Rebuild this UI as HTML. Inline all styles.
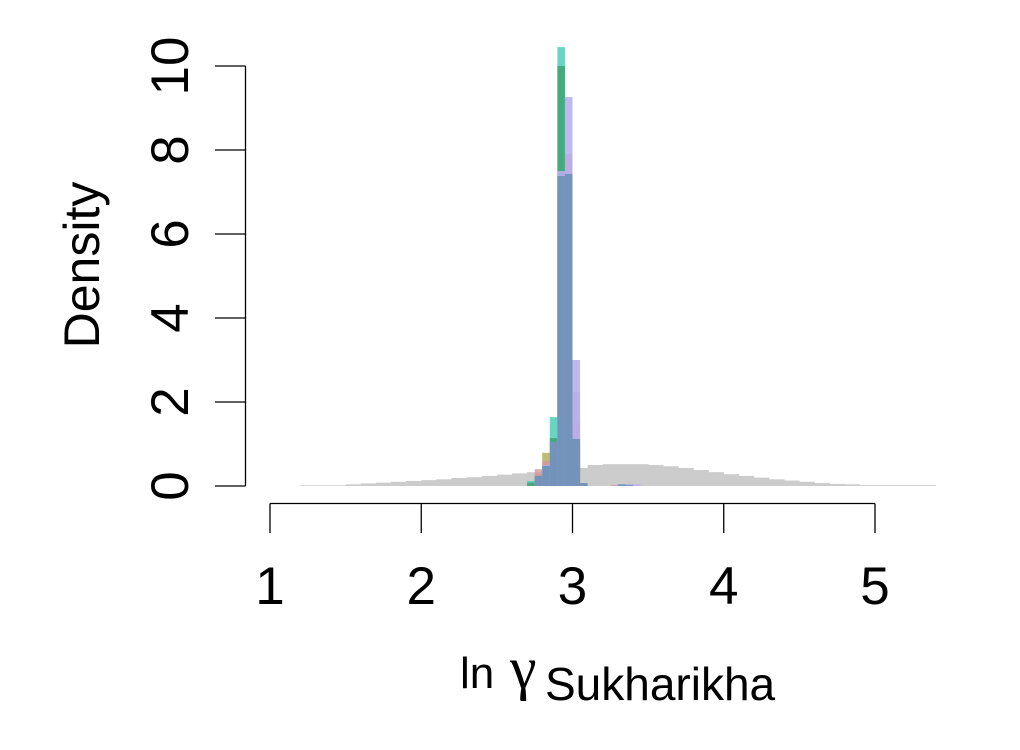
<!DOCTYPE html>
<html><head><meta charset="utf-8"><style>
html,body{margin:0;padding:0;background:#fff;}
svg{display:block;font-family:"Liberation Sans",Arial,sans-serif;}
</style></head><body>
<svg id="chart" width="1020" height="750" viewBox="0 0 1020 750" xmlns="http://www.w3.org/2000/svg">
<rect width="1020" height="750" fill="#fff"/>
<g id="prior"></g>
<g id="post"></g>
<g id="yaxis"></g>
<g id="xaxis"></g>
<text transform="translate(99,265) rotate(-90)" text-anchor="middle" font-size="50">Density</text>
<text font-size="44"><tspan x="460" y="688">ln</tspan><tspan x="510" y="688" font-family="'Liberation Serif',serif" font-size="60">γ</tspan><tspan x="545" y="700" font-size="46">Sukharikha</tspan></text>
</svg>
<script>
const priorStart = 1.2;
const priorWidth = 0.1;
const priorValues = [0.017,0.017,0.017,0.04,0.06,0.08,0.10,0.12,0.14,0.16,0.19,0.21,0.24,0.27,0.30,0.33,0.36,0.40,0.43,0.50,0.52,0.52,0.52,0.50,0.47,0.43,0.38,0.33,0.28,0.24,0.20,0.16,0.13,0.10,0.07,0.05,0.04,0.02,0.02,0.02,0.02,0.02];
const postStart = 2.7;
const postWidth = 0.05;
const seriesNames = ["teal","green","olive","pink","purple","blue"];
const teal   = [0.12,0.10,0.20,1.64,10.45,0.50,1.20,0,0,0,0,0,0,0,0];
const green  = [0.08,0.20,0.30,1.14,10.00,0.60,1.00,0,0,0,0,0,0,0,0];
const olive  = [0,0.29,0.79,0.50,7.00,7.90,1.50,0,0,0,0,0,0.02,0,0];
const pink   = [0,0.40,0.60,0.60,7.00,7.90,2.24,0,0,0,0,0.02,0,0,0];
const purple = [0,0.10,0.50,0.90,7.50,9.26,3.00,0.05,0,0,0,0,0.03,0.05,0.04];
const blue   = [0,0.24,0.48,1.05,7.38,7.43,1.12,0.07,0,0,0,0,0.04,0.02,0];
const seriesValues = [teal,green,olive,pink,purple,blue];
const seriesColors = ["rgba(80,205,185,0.85)","rgba(60,160,110,0.8)","rgba(175,170,80,0.8)","rgba(215,150,160,0.8)","rgba(185,175,240,0.9)","rgba(115,147,187,1)"];
const xTicks = [1,2,3,4,5];
const yTicks = [0,2,4,6,8,10];

const NS="http://www.w3.org/2000/svg";
const X = v => 270 + (v-1)*151.25;
const Y = v => 486 - v*42;
function mk(tag, attrs, parent){const e=document.createElementNS(NS,tag);for(const k in attrs)e.setAttribute(k,attrs[k]);parent.appendChild(e);return e;}

const pg=document.getElementById('prior');
priorValues.forEach((v,i)=>{
  const x0=X(priorStart+i*priorWidth), x1=X(priorStart+(i+1)*priorWidth);
  const r=mk('rect',{x:x0,y:Y(v),width:x1-x0+0.3,height:Y(0)-Y(v),fill:'#cccccc'},pg);
  
  
});
const sg=document.getElementById('post');
seriesValues.forEach((arr,s)=>{
  const g=mk('g',{},sg);
  
  
  arr.forEach((v,i)=>{
    if(v<=0)return;
    const x0=X(postStart+i*postWidth), x1=X(postStart+(i+1)*postWidth);
    const r=mk('rect',{x:x0,y:Y(v),width:x1-x0,height:Y(0)-Y(v),fill:seriesColors[s]},g);
    
    
  });
});
const ya=document.getElementById('yaxis');
mk('line',{x1:245.5,x2:245.5,y1:Y(10),y2:Y(0),stroke:'#000','stroke-width':1.3},ya);
yTicks.forEach(t=>{
  mk('line',{x1:215,x2:245.5,y1:Y(t),y2:Y(t),stroke:'#000','stroke-width':1.3},ya);
  const tx=mk('text',{transform:`translate(188,${Y(t)}) rotate(-90)`,'text-anchor':'middle','font-size':53},ya);
  tx.textContent=t;
  
  
});
const xa=document.getElementById('xaxis');
mk('line',{x1:X(1),x2:X(5),y1:503.5,y2:503.5,stroke:'#000','stroke-width':1.3},xa);
xTicks.forEach(t=>{
  mk('line',{x1:X(t),x2:X(t),y1:503.5,y2:533,stroke:'#000','stroke-width':1.3},xa);
  const tx=mk('text',{x:X(t),y:604,'text-anchor':'middle','font-size':53},xa);
  tx.textContent=t;
  
  
});
</script>
</body></html>
